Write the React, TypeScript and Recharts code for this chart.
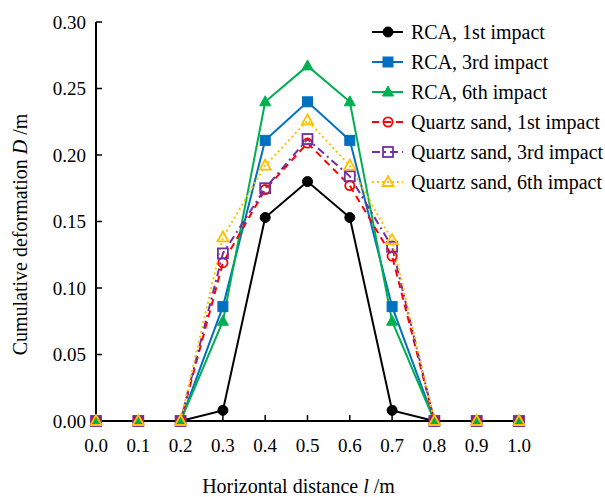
import { LineChart, Line, XAxis, YAxis, Legend } from 'recharts'

const DISTANCE = [0.0, 0.1, 0.2, 0.3, 0.4, 0.5, 0.6, 0.7, 0.8, 0.9, 1.0]
const RCA_1ST = [0, 0, 0, 0.008, 0.153, 0.18, 0.153, 0.008, 0, 0, 0]
const RCA_3RD = [0, 0, 0, 0.086, 0.211, 0.24, 0.211, 0.086, 0, 0, 0]
const RCA_6TH = [0, 0, 0, 0.075, 0.24, 0.267, 0.24, 0.075, 0, 0, 0]
const QS_1ST = [0, 0, 0, 0.119, 0.174, 0.209, 0.177, 0.124, 0, 0, 0]
const QS_3RD = [0, 0, 0, 0.126, 0.175, 0.212, 0.184, 0.131, 0, 0, 0]
const QS_6TH = [0, 0, 0, 0.138, 0.192, 0.226, 0.192, 0.136, 0, 0, 0]

const X_TICKS = [0, 0.1, 0.2, 0.3, 0.4, 0.5, 0.6, 0.7, 0.8, 0.9, 1.0]
const Y_TICKS = [0, 0.05, 0.1, 0.15, 0.2, 0.25, 0.3]

type Marker = 'circle' | 'square' | 'triangle'

const SERIES: { key: string; name: string; values: number[]; color: string; marker: Marker; filled: boolean; dash?: string }[] = [
  { key: 'rca1', name: 'RCA, 1st impact', values: RCA_1ST, color: '#000000', marker: 'circle', filled: true },
  { key: 'rca3', name: 'RCA, 3rd impact', values: RCA_3RD, color: '#0070C0', marker: 'square', filled: true },
  { key: 'rca6', name: 'RCA, 6th impact', values: RCA_6TH, color: '#00B050', marker: 'triangle', filled: true },
  { key: 'qs1', name: 'Quartz sand, 1st impact', values: QS_1ST, color: '#FF0000', marker: 'circle', filled: false, dash: '7 5' },
  { key: 'qs3', name: 'Quartz sand, 3rd impact', values: QS_3RD, color: '#7030A0', marker: 'square', filled: false, dash: '8 4 2 4' },
  { key: 'qs6', name: 'Quartz sand, 6th impact', values: QS_6TH, color: '#FFC000', marker: 'triangle', filled: false, dash: '2 3' },
]

const data = DISTANCE.map((x, i) => {
  const row: Record<string, number> = { x }
  SERIES.forEach(s => { row[s.key] = s.values[i] })
  return row
})

const FONT = '"Liberation Serif", "Times New Roman", serif'

function marker(m: Marker, filled: boolean, color: string, cx: number, cy: number, key?: string | number) {
  const fill = filled ? color : '#ffffff00'
  const sw = filled ? 1 : 1.8
  if (m === 'circle')
    return <circle key={key} cx={cx} cy={cy} r={filled ? 5 : 4.6} fill={fill} stroke={color} strokeWidth={sw} />
  if (m === 'square')
    return <rect key={key} x={cx - 5} y={cy - 5} width={10} height={10} fill={fill} stroke={color} strokeWidth={sw} />
  return (
    <polygon key={key} points={`${cx},${cy - 6} ${cx + 5.5},${cy + 4} ${cx - 5.5},${cy + 4}`}
      fill={fill} stroke={color} strokeWidth={sw} strokeLinejoin="miter" />
  )
}

// keep the legend in series order (recharts sorts payload by name otherwise)
function LegendBox() {
  return (
    <div style={{ fontFamily: FONT, fontSize: 20, color: '#000' }}>
      {SERIES.map(s => (
        <div key={s.key} style={{ display: 'flex', alignItems: 'center', height: 30, whiteSpace: 'nowrap' }}>
          <svg width={40} height={30} style={{ flexShrink: 0 }}>
            <line x1={4} y1={15} x2={35} y2={15} stroke={s.color} strokeWidth={2} strokeDasharray={s.dash} />
            {marker(s.marker, s.filled, s.color, 20, 15)}
          </svg>
          <span style={{ marginLeft: 3 }}>{s.name}</span>
        </div>
      ))}
    </div>
  )
}

export default function App() {
  return (
    <div style={{ position: 'absolute', left: 0, top: 0, width: 605, height: 497, background: '#fff' }}>
      <LineChart width={605} height={497} data={data} margin={{ top: 22, right: 86, left: 36, bottom: 46 }}>
        <XAxis dataKey="x" type="number" domain={[0, 1]} ticks={X_TICKS}
          tickFormatter={v => Number(v).toFixed(1)}
          tick={{ fontSize: 19, fill: '#000', fontFamily: FONT }}
          axisLine={{ stroke: '#000', strokeWidth: 2 }} tickLine={{ stroke: '#000', strokeWidth: 1.5 }}
          tickSize={-6} tickMargin={24} height={30}
          label={{
            content: (p: any) => {
              const vb = p.viewBox ?? { x: 96, width: 423, y: 421 }
              return (
                <text x={vb.x + vb.width / 2 - 9} y={493} textAnchor="middle" fontFamily={FONT} fontSize={20} fill="#000">
                  Horizontal distance <tspan fontStyle="italic">l</tspan> /m
                </text>
              )
            },
          }} />
        <YAxis type="number" domain={[0, 0.3]} ticks={Y_TICKS}
          tickFormatter={v => Number(v).toFixed(2)}
          tick={{ fontSize: 19, fill: '#000', fontFamily: FONT }}
          axisLine={{ stroke: '#000', strokeWidth: 2 }} tickLine={{ stroke: '#000', strokeWidth: 1.5 }}
          tickSize={-6} tickMargin={16} width={60}
          label={{
            content: (p: any) => {
              const vb = p.viewBox ?? { y: 22, height: 399 }
              const cy = vb.y + vb.height / 2 + 13
              return (
                <text x={27} y={cy} transform={`rotate(-90 27 ${cy})`} textAnchor="middle" fontFamily={FONT} fontSize={20} fill="#000">
                  Cumulative deformation <tspan fontStyle="italic">D</tspan> /m
                </text>
              )
            },
          }} />
        <Legend layout="vertical" align="center" verticalAlign="middle" content={<LegendBox />}
          wrapperStyle={{ left: 368, top: 17, width: 240 }} />
        {SERIES.map(s => (
          <Line key={s.key} dataKey={s.key} name={s.name} stroke={s.color} strokeWidth={2}
            strokeDasharray={s.dash} isAnimationActive={false}
            dot={(p: any) => marker(s.marker, s.filled, s.color, p.cx, p.cy, `${s.key}-${p.index}`)}
            activeDot={false} />
        ))}
      </LineChart>
    </div>
  )
}
